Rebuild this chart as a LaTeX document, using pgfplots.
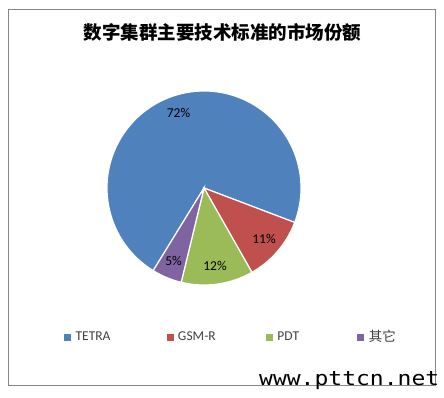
\documentclass[border=0pt]{standalone}
\usepackage{pgfplots}
\pgfplotsset{compat=1.18}
\usepackage{pgfplotstable}
\usepackage{graphicx}
\usepackage{fontspec}
\setmainfont{Carlito}
\newfontfamily\cjk{Noto Sans CJK SC}
\newfontfamily\wm{DejaVu Sans Mono}
\definecolor{c0}{HTML}{4F81BD}
\definecolor{c1}{HTML}{C0504D}
\definecolor{c2}{HTML}{9BBB59}
\definecolor{c3}{HTML}{8064A2}
\definecolor{framegray}{HTML}{868686}
\definecolor{legtext}{HTML}{404040}

\pgfplotstableread{
name value
TETRA 72
GSM-R 11
PDT 12
other 5
}\piedata

\begin{document}
\begin{tikzpicture}
% angles of the slices, clockwise from the start angle
\xdef\acc{238.4}
\foreach \i in {0,...,3}{
  \pgfplotstablegetelem{\i}{value}\of\piedata
  \xdef\curval{\pgfplotsretval}
  \pgfmathsetmacro\aend{\acc-3.6*\curval}
  \pgfmathsetmacro\amid{(\acc+\aend)/2}
  \expandafter\xdef\csname pa\i\endcsname{\acc}
  \expandafter\xdef\csname pb\i\endcsname{\aend}
  \expandafter\xdef\csname pm\i\endcsname{\amid}
  \expandafter\xdef\csname pv\i\endcsname{\curval}
  \xdef\acc{\aend}
}
\begin{axis}[
  x=1pt, y=1pt, disabledatascaling, scale only axis,
  xmin=0, xmax=444, ymin=0, ymax=397, enlargelimits=false,
  hide axis, clip=false,
  legend columns=4,
  legend style={draw=none, fill=none, at={(61/444,60/397)}, anchor=west,
    font=\fontsize{13.5}{15}\selectfont, text=legtext},
  legend cell align=left,
]
\path (axis cs:0,0) rectangle (axis cs:444,397);
\draw[framegray, line width=1pt] (axis cs:8,12) rectangle (axis cs:435,387);

\pgfplotsinvokeforeach{0,...,3}{
  \fill[c#1, draw=white, line width=1.2pt] (axis cs:204,209) -- ++(\csname pa#1\endcsname:97pt)
    arc[start angle=\csname pa#1\endcsname, end angle=\csname pb#1\endcsname, radius=97pt] -- cycle;
}
\pgfplotsinvokeforeach{0,...,3}{
  \node[font=\fontsize{13.5}{15}\selectfont, text=black, shift={(\csname pm#1\endcsname:79pt)}]
    at (axis cs:204,209) {\csname pv#1\endcsname\%};
}

\node[font=\cjk\bfseries\fontsize{18.5}{21}\selectfont] at (axis cs:222.5,365)
  {数字集群主要技术标准的市场份额};

\node[anchor=base west, inner sep=0pt, font=\wm\fontsize{20}{22}\selectfont]
  at (axis cs:259,12) {\scalebox{1.15}[1]{www.pttcn.net}};

\addlegendimage{legend image code/.code={\fill[c0] (0pt,-3pt) rectangle (6pt,3pt);}}
\addlegendentry{\makebox[92pt][l]{\hspace{3pt}TETRA}}
\addlegendimage{legend image code/.code={\fill[c1] (0pt,-3pt) rectangle (6pt,3pt);}}
\addlegendentry{\makebox[89pt][l]{\hspace{3pt}GSM-R}}
\addlegendimage{legend image code/.code={\fill[c2] (0pt,-3pt) rectangle (6pt,3pt);}}
\addlegendentry{\makebox[81pt][l]{\hspace{3pt}PDT}}
\addlegendimage{legend image code/.code={\fill[c3] (0pt,-3pt) rectangle (6pt,3pt);}}
\addlegendentry{\makebox[30pt][l]{\hspace{3pt}\cjk 其它}}
\end{axis}
\end{tikzpicture}
\end{document}
